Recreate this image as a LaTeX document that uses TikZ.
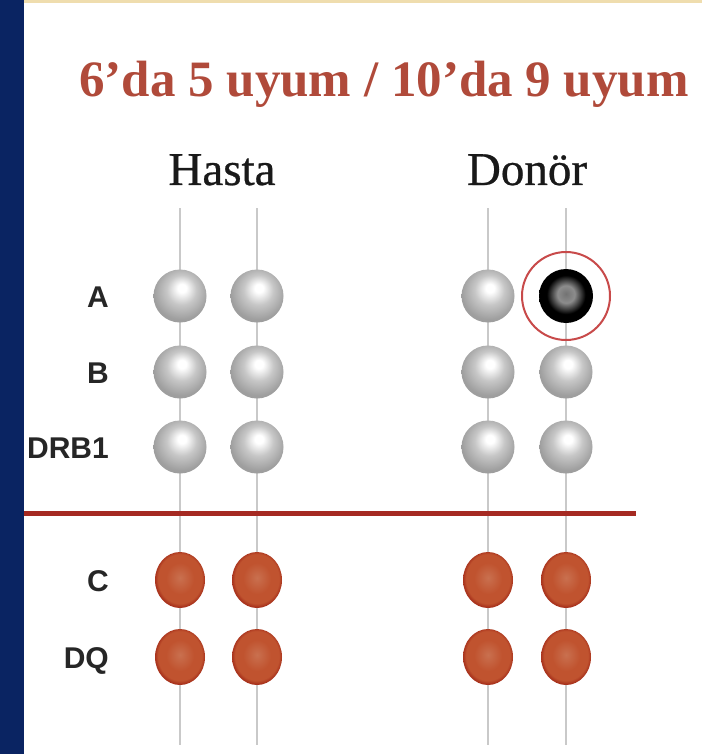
\documentclass[tikz,border=0pt]{standalone}
\usepackage{fontspec}
\setmainfont{Liberation Serif}
\newfontfamily\headfont[FakeBold=0.6]{Liberation Serif}
\newfontfamily\lblfont{Liberation Sans}
\usetikzlibrary{shapes.geometric}
\definecolor{navy}{HTML}{0A2462}
\definecolor{topband}{HTML}{EFDDAE}
\definecolor{titlered}{HTML}{B04A3A}
\definecolor{sepred}{HTML}{A52A22}
\definecolor{ringred}{HTML}{C84A4A}
\definecolor{linegray}{HTML}{C9C9C9}
\definecolor{rc1}{HTML}{C9704F}
\definecolor{rc2}{HTML}{C0532F}
\definecolor{rc3}{HTML}{A8321C}
\pgfdeclareradialshading{graysph}{\pgfpoint{2bp}{8bp}}{color(0bp)=(white); color(4bp)=(white); color(14bp)=(black!22); color(26bp)=(black!38); color(50bp)=(black!38)}
\pgfdeclareradialshading{redsph}{\pgfpoint{0bp}{2bp}}{color(0bp)=(rc1); color(14bp)=(rc2); color(22bp)=(rc2); color(25bp)=(rc3); color(50bp)=(rc3)}
\pgfdeclareradialshading{blacksph}{\pgfpoint{0bp}{2bp}}{color(0bp)=(black!55); color(8bp)=(black!45); color(18bp)=(black); color(50bp)=(black)}
\tikzset{
  gball/.style={circle, minimum size=53pt, inner sep=0pt, shading=graysph},
  rball/.style={ellipse, minimum width=50pt, minimum height=56pt, inner sep=0pt, shading=redsph},
  bball/.style={circle, minimum size=54pt, inner sep=0pt, shading=blacksph},
  ring/.style={circle, minimum size=88pt, inner sep=0pt, draw=ringred, line width=2pt},
  vline/.style={draw=linegray, line width=2.5pt},
  lbl/.style={font=\lblfont\bfseries\fontsize{30}{30}\selectfont, text=black!85, anchor=base east, inner sep=0pt},
  head/.style={font=\headfont\fontsize{47}{47}\selectfont, text=black!90, anchor=base, inner sep=0pt},
}
\begin{document}
\begin{tikzpicture}[x=1pt,y=1pt]
\useasboundingbox (0,0) rectangle (702,-754);
\fill[white] (0,0) rectangle (702,-754);
\fill[navy] (0,0) rectangle (24,-754);
\fill[topband] (24,0) rectangle (702,-3);

% title and headers
\node[font=\bfseries\fontsize{51}{51}\selectfont, text=titlered, anchor=base, inner sep=0pt] (title) at (384,-97) {6’da 5 uyum / 10’da 9 uyum};
\node[head] (hasta) at (222,-185) {Hasta};
\node[head] (donor) at (527,-185) {Donör};

% vertical strands
\foreach \n/\x in {h1/180, h2/257, d1/488, d2/566}{
  \coordinate (\n t) at (\x,-208);
  \coordinate (\n b) at (\x,-745);
  \draw[vline] (\n t) -- (\n b);
}

% separator
\coordinate (sepL) at (24,-513);
\coordinate (sepR) at (636,-513);
\draw[sepred, line width=5pt] (sepL) -- (sepR);

% row labels
\node[lbl] (lA) at (109,-307) {A};
\node[lbl] (lB) at (109,-383) {B};
\node[lbl] (lDRB) at (109,-458) {DRB1};
\node[lbl] (lC) at (109,-591) {C};
\node[lbl] (lDQ) at (109,-668) {DQ};

% gray balls
\foreach \r/\y in {A/296, B/372, DRB/447}{
  \node[gball] (h1\r) at (180,-\y) {};
  \node[gball] (h2\r) at (257,-\y) {};
  \node[gball] (d1\r) at (488,-\y) {};
}
\node[gball] (d2B) at (566,-372) {};
\node[gball] (d2DRB) at (566,-447) {};
\node[bball] (d2A) at (566,-296) {};
\node[ring] (mismatch) at (566,-296) {};

% red balls
\foreach \r/\y in {C/580, DQ/657}{
  \node[rball] (h1\r) at (180,-\y) {};
  \node[rball] (h2\r) at (257,-\y) {};
  \node[rball] (d1\r) at (488,-\y) {};
  \node[rball] (d2\r) at (566,-\y) {};
}
\end{tikzpicture}
\end{document}
